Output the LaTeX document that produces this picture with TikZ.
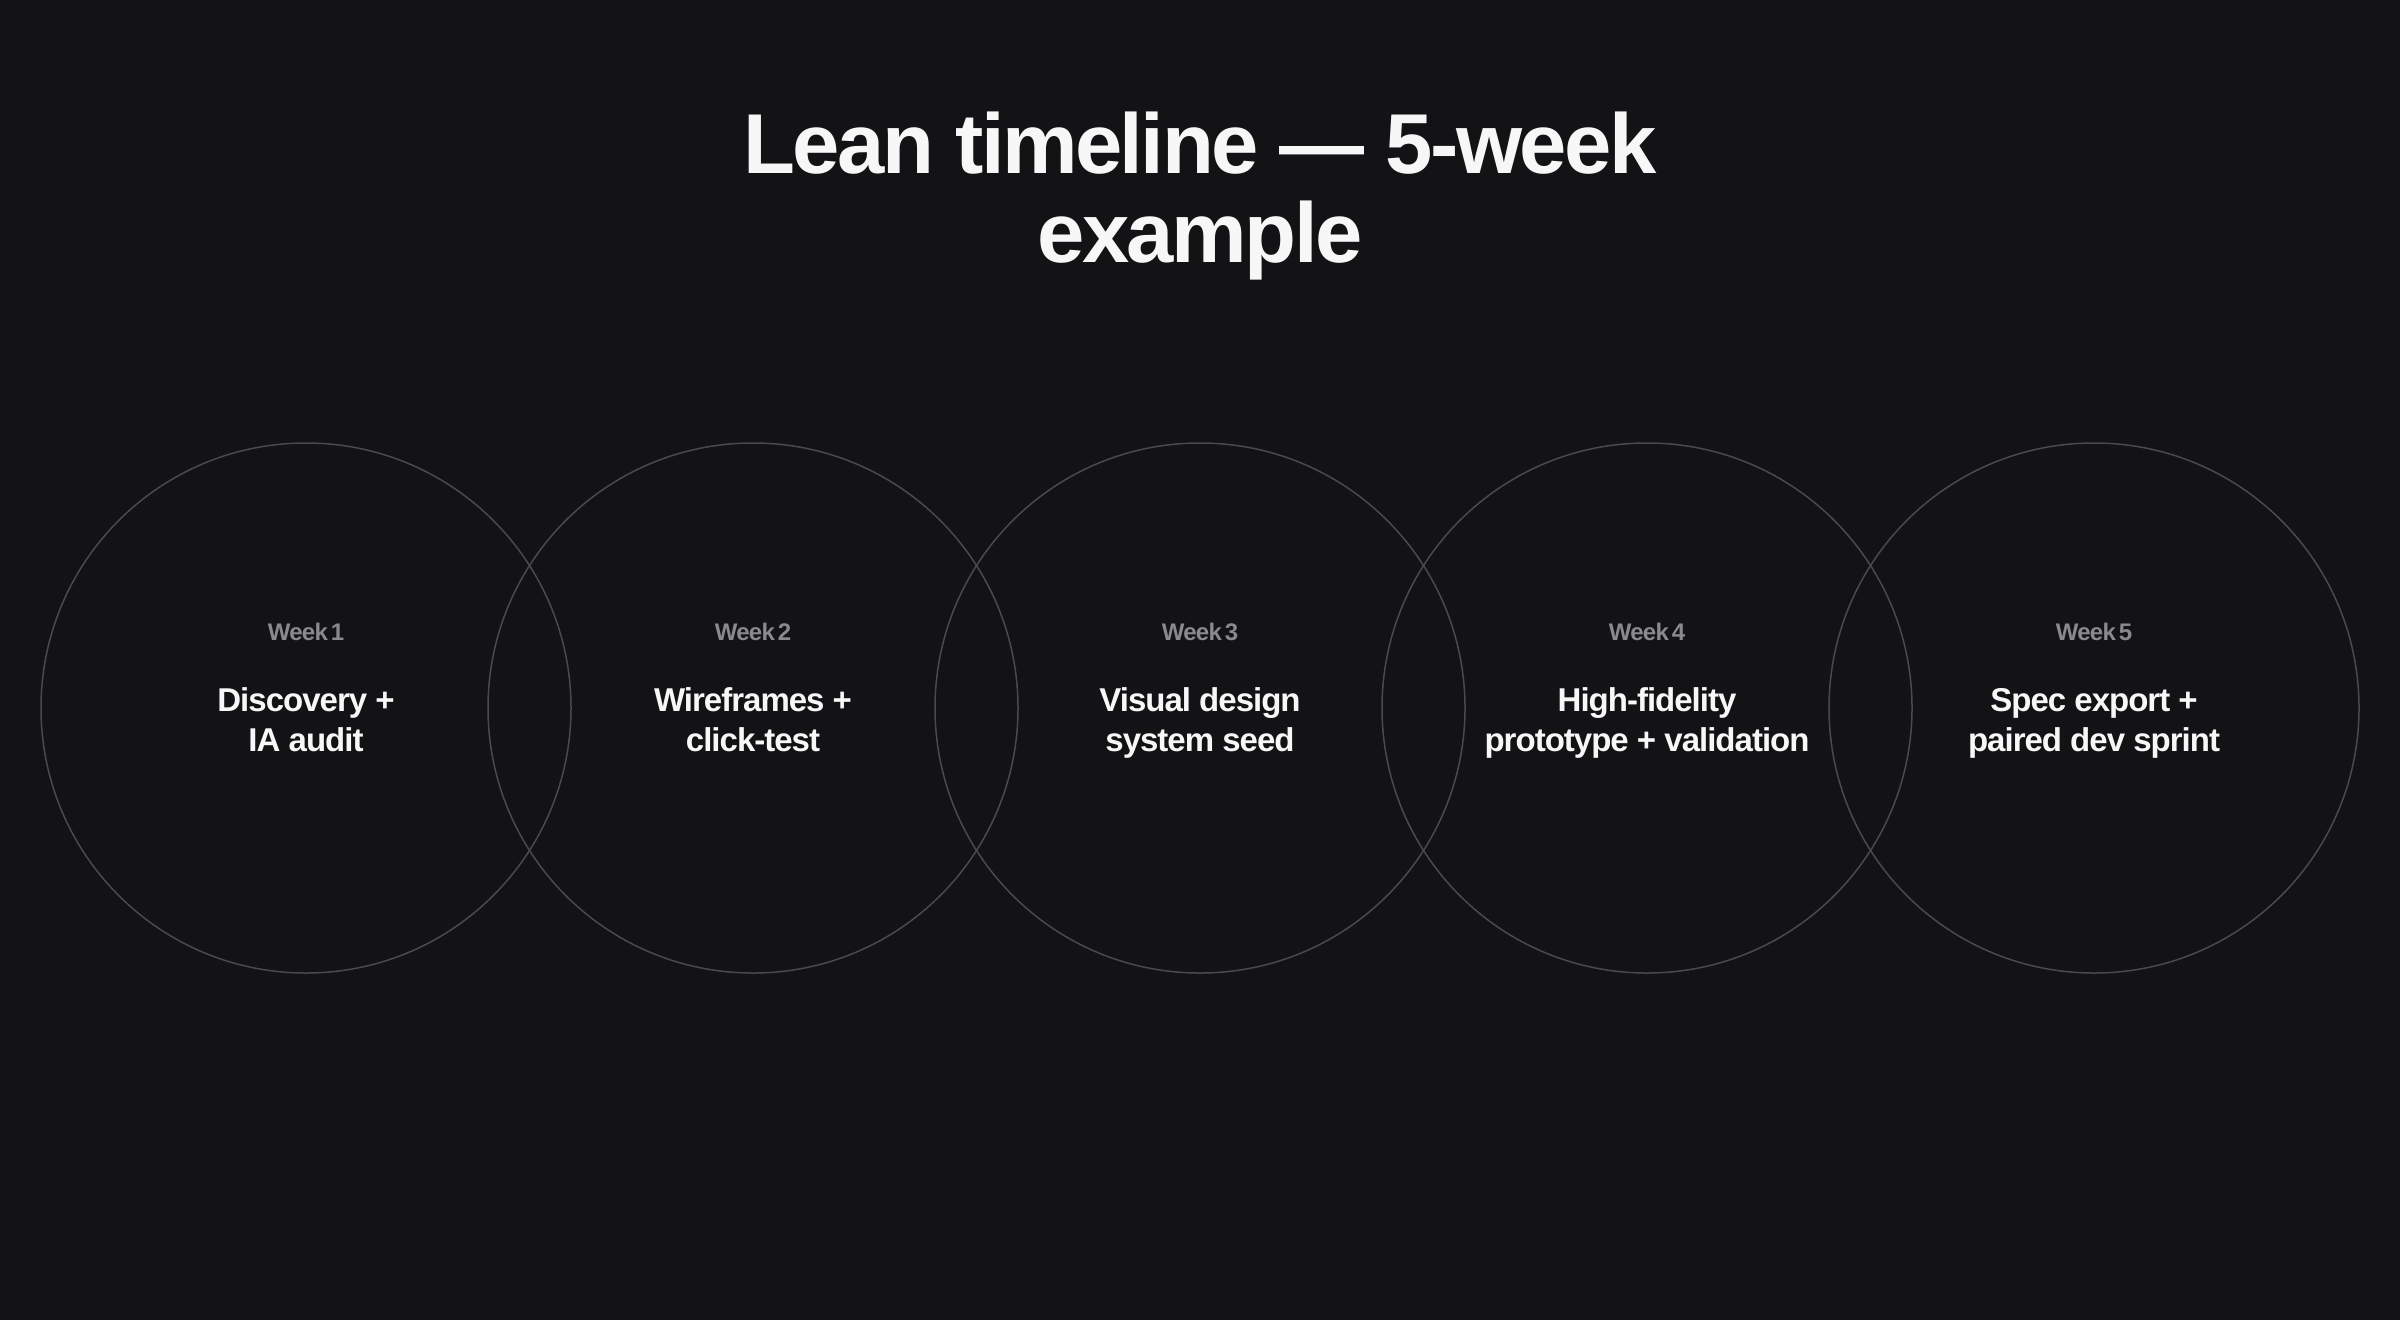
\documentclass[tikz,border=0pt]{standalone}
\usepackage{fontspec}
\setmainfont{Liberation Sans}
\newfontfamily\tightfont[LetterSpace=-3]{Liberation Sans}
\definecolor{bg}{HTML}{131215}
\definecolor{ring}{HTML}{4A494E}
\definecolor{weekgrey}{HTML}{8A898E}
\definecolor{ink}{HTML}{F7F7F7}
\begin{document}
\begin{tikzpicture}[x=1pt,y=-1pt,
  ringnode/.style={circle, draw=ring, line width=1.5pt, minimum size=530pt, inner sep=0pt},
  titletext/.style={text=ink, font=\tightfont\bfseries\fontsize{85}{89}\selectfont, align=center, anchor=base, inner sep=0pt},
  weektext/.style={text=weekgrey, font=\tightfont\bfseries\fontsize{24}{30}\selectfont, anchor=base, inner sep=0pt},
  phasetext/.style={text=ink, font=\tightfont\bfseries\fontsize{33}{39.5}\selectfont, align=center, anchor=base, inner sep=0pt}]
\fill[bg] (0,0) rectangle (2400,1320);
\useasboundingbox (0,0) rectangle (2400,1320);
\node[titletext] (title) at (1200,262) {Lean timeline — 5-week\\example};
\foreach \i/\cx/\txt in {1/306/{Discovery +\\IA audit},
                         2/753/{Wireframes +\\click-test},
                         3/1200/{Visual design\\system seed},
                         4/1647/{High-fidelity\\prototype + validation},
                         5/2094/{Spec export +\\paired dev sprint}}{
  \node[ringnode] (ring\i) at (\cx,708) {};
  \node[weektext] (week\i) at (\cx,640) {Week\hspace{3pt}\i};
  \node[phasetext] (phase\i) at (\cx,751) {\txt};
}
\end{tikzpicture}
\end{document}
